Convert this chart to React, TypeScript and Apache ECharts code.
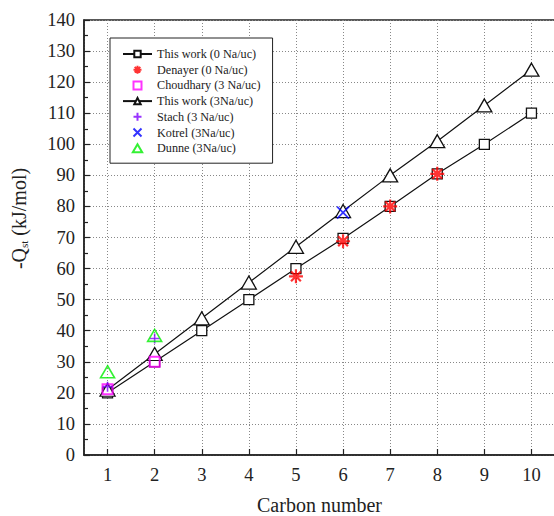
import React, { useEffect, useRef } from "react";
import * as echarts from "echarts";

const carbon = [1, 2, 3, 4, 5, 6, 7, 8, 9, 10];
const thisWork0 = [20, 30, 40, 50, 60, 69.7, 80, 90.5, 100, 110];
const thisWork3 = [21, 32.5, 44, 55.5, 67, 78.5, 90, 101, 112.5, 124];
const denayerX = [5, 6, 7, 8];
const denayerY = [57.5, 68.8, 80, 90.5];
const choudharyX = [1, 2];
const choudharyY = [21.2, 30];
const stachX = [1, 2];
const stachY = [22, 37.5];
const kotrelX = [6];
const kotrelY = [78];
const dunneX = [1, 2];
const dunneY = [26.8, 38.5];
const yTicks = { min: 0, max: 140, interval: 10 };

const pair = (xs: number[], ys: number[]) => xs.map((x, i) => [x, ys[i]]);

const ASTER = "path://M5 0L5 10M0 5L10 5M1.5 1.5L8.5 8.5M8.5 1.5L1.5 8.5";
const PLUS = "path://M5 0L5 10M0 5L10 5";
const CROSS = "path://M0 0L10 10M10 0L0 10";
const SQUARE = "path://M0 0L10 0L10 10L0 10Z";
const TRI = "path://M7 0L14 12L0 12Z";

const font = "'Liberation Serif', 'Times New Roman', serif";

export default function App() {
  const ref = useRef<HTMLDivElement>(null);
  useEffect(() => {
    document.body.style.margin = "0";
    const chart = echarts.init(ref.current!, null, { renderer: "svg" });
    chart.setOption({
      animation: false,
      backgroundColor: "#fff",
      textStyle: { fontFamily: font },
      grid: {
        left: 84,
        top: 20,
        width: 471,
        height: 435,
        outerBoundsMode: "none",
        containLabel: false,
        show: true,
        borderColor: "#222",
        borderWidth: 1.5,
        backgroundColor: "transparent",
      },
      legend: {
        orient: "vertical",
        left: 110,
        top: 38,
        padding: [9, 12, 8, 12],
        itemGap: 1.7,
        itemWidth: 29,
        itemHeight: 8,
        borderColor: "#222",
        borderWidth: 1,
        backgroundColor: "#fff",
        textStyle: { fontFamily: font, fontSize: 12.2, color: "#222", lineHeight: 14 },
        data: [
          "This work (0 Na/uc)",
          "Denayer (0 Na/uc)",
          "Choudhary (3 Na/uc)",
          "This work (3Na/uc)",
          "Stach (3 Na/uc)",
          "Kotrel (3Na/uc)",
          "Dunne (3Na/uc)",
        ],
      },
      xAxis: {
        type: "value",
        min: 0.5,
        max: 10.5,
        splitNumber: 10,
        name: "Carbon number",
        nameLocation: "middle",
        nameGap: 40,
        nameTextStyle: { fontFamily: font, fontSize: 20, color: "#222", lineHeight: 20 },
        axisLine: { show: true, lineStyle: { color: "#222", width: 1.5 } },
        axisTick: { show: true, inside: true, length: 6, lineStyle: { color: "#222", width: 1.2 } },
        axisLabel: {
          fontFamily: font,
          fontSize: 18.5,
          color: "#222",
          margin: 10,
          showMinLabel: false,
          showMaxLabel: false,
          formatter: (v: number) => (Number.isInteger(v) ? String(v) : ""),
        },
        splitLine: { show: true, lineStyle: { color: "#888", type: [1, 2], width: 1 } },
      },
      yAxis: {
        type: "value",
        min: yTicks.min,
        max: yTicks.max,
        interval: yTicks.interval,
        name: "-Q{s|st} (kJ/mol)",
        nameLocation: "middle",
        nameGap: 55,
        nameTextStyle: {
          fontFamily: font,
          fontSize: 20,
          color: "#222",
          padding: [0, 0, 0, 38],
          rich: { s: { fontFamily: font, fontSize: 11, color: "#222", verticalAlign: "bottom", padding: [9, 0, 0, 0] } },
        },
        axisLine: { show: true, lineStyle: { color: "#222", width: 1.5 } },
        axisTick: { show: true, inside: true, length: 6, lineStyle: { color: "#222", width: 1.2 } },
        minorTick: { show: true, splitNumber: 2, length: 4, lineStyle: { color: "#222", width: 1.2 } },
        axisLabel: { fontFamily: font, fontSize: 18.5, color: "#222", margin: 9 },
        splitLine: { show: true, lineStyle: { color: "#888", type: [1, 2], width: 1 } },
      },
      series: [
        {
          name: "This work (0 Na/uc)",
          type: "line",
          data: pair(carbon, thisWork0),
          symbol: "rect",
          symbolSize: 10,
          lineStyle: { color: "#111", width: 1.2 },
          itemStyle: { color: "#fff", borderColor: "#111", borderWidth: 1.3 },
          z: 2,
        },
        {
          name: "This work (3Na/uc)",
          type: "line",
          data: pair(carbon, thisWork3),
          symbol: "triangle",
          symbolSize: [15, 13],
          lineStyle: { color: "#111", width: 1.2 },
          itemStyle: { color: "#fff", borderColor: "#111", borderWidth: 1.3 },
          z: 2,
        },
        {
          name: "Denayer (0 Na/uc)",
          type: "scatter",
          data: pair(denayerX, denayerY),
          symbol: ASTER,
          symbolSize: 14,
          symbolKeepAspect: true,
          itemStyle: { color: "none", borderColor: "#ff0000", borderWidth: 2.2 },
          z: 3,
        },
        {
          name: "Choudhary (3 Na/uc)",
          type: "scatter",
          data: pair(choudharyX, choudharyY),
          symbol: SQUARE,
          symbolSize: 10,
          symbolKeepAspect: true,
          itemStyle: { color: "none", borderColor: "#ff00ff", borderWidth: 2 },
          z: 3,
        },
        {
          name: "Stach (3 Na/uc)",
          type: "scatter",
          data: pair(stachX, stachY),
          symbol: PLUS,
          symbolSize: 10,
          symbolKeepAspect: true,
          itemStyle: { color: "none", borderColor: "#7f00ff", borderWidth: 1.6 },
          z: 3,
        },
        {
          name: "Kotrel (3Na/uc)",
          type: "scatter",
          data: pair(kotrelX, kotrelY),
          symbol: CROSS,
          symbolSize: 12,
          symbolKeepAspect: true,
          itemStyle: { color: "none", borderColor: "#0000ff", borderWidth: 1.8 },
          z: 3,
        },
        {
          name: "Dunne (3Na/uc)",
          type: "scatter",
          data: pair(dunneX, dunneY),
          symbol: TRI,
          symbolSize: 14,
          symbolKeepAspect: true,
          itemStyle: { color: "none", borderColor: "#00ee00", borderWidth: 1.6 },
          z: 3,
        },
      ],
    });
    return () => chart.dispose();
  }, []);
  return <div ref={ref} style={{ width: 554, height: 516 }} />;
}
